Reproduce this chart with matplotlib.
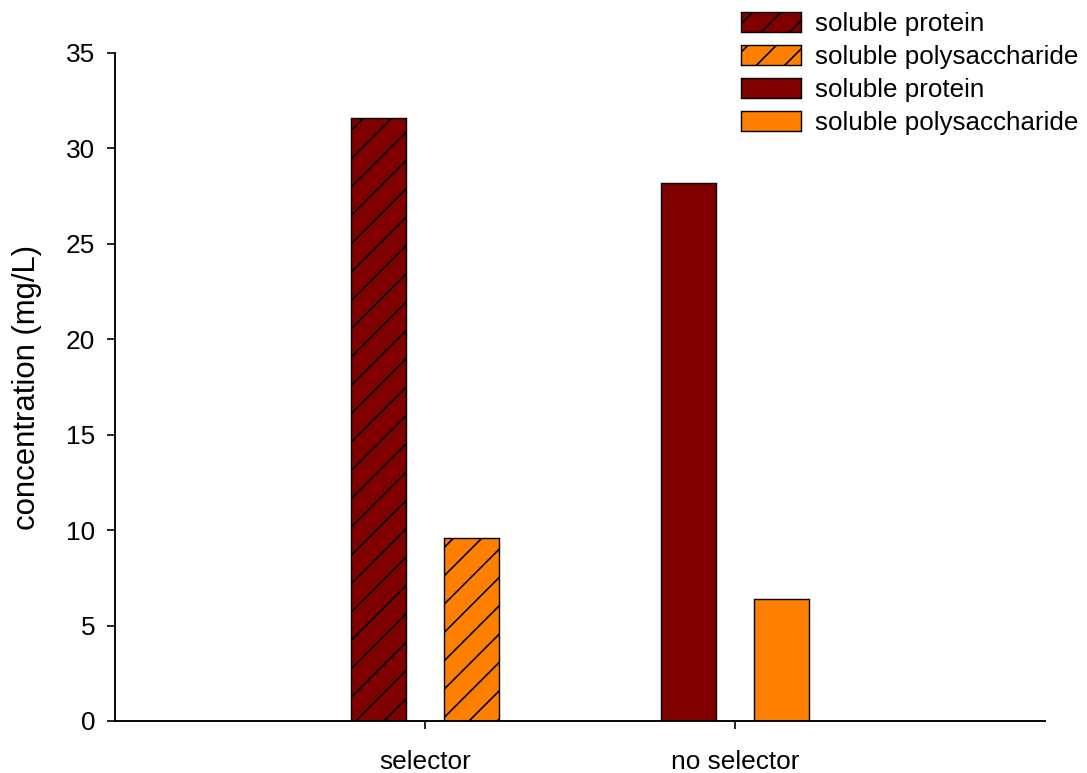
import matplotlib
matplotlib.use("Agg")
import matplotlib.pyplot as plt
from matplotlib.patches import Patch

categories = ["selector", "no selector"]
protein = [31.6, 28.2]
polysaccharide = [9.6, 6.4]
hatched = [True, False]

DPI = 170
plt.rcParams["font.family"] = ["Liberation Sans", "DejaVu Sans"]
plt.rcParams["hatch.linewidth"] = 0.7
plt.rcParams["hatch.color"] = "black"

fig = plt.figure(figsize=(1087 / DPI, 773 / DPI), dpi=DPI)
ax = fig.add_axes([115 / 1087, 52 / 773, 930 / 1087, 668 / 773])

c_prot = "#800000"
c_poly = "#FF8000"
width = 0.18
xpos = [1, 2]
for i, x in enumerate(xpos):
    h = "//" if hatched[i] else None
    ax.bar(x - 0.15, protein[i], width, color=c_prot, edgecolor="black",
           linewidth=0.6, hatch=h)
    ax.bar(x + 0.15, polysaccharide[i], width, color=c_poly, edgecolor="black",
           linewidth=0.6, hatch=h)

ax.set_xlim(0, 3)
ax.set_ylim(0, 35)
ax.set_xticks(xpos)
ax.set_xticklabels(categories, fontsize=11.1)
ax.set_yticks(range(0, 36, 5))
ax.tick_params(axis="y", labelsize=11.1, length=3.4, width=0.7, pad=5)
ax.tick_params(axis="x", length=3.4, width=0.7, pad=9)
for s in ["top", "right"]:
    ax.spines[s].set_visible(False)
for s in ["left", "bottom"]:
    ax.spines[s].set_linewidth(0.8)
ax.set_ylabel("concentration (mg/L)", fontsize=13.2, labelpad=10)

handles = [
    Patch(facecolor=c_prot, edgecolor="black", hatch="//", linewidth=0.6, label="soluble protein"),
    Patch(facecolor=c_poly, edgecolor="black", hatch="//", linewidth=0.6, label="soluble polysaccharide"),
    Patch(facecolor=c_prot, edgecolor="black", linewidth=0.6, label="soluble protein"),
    Patch(facecolor=c_poly, edgecolor="black", linewidth=0.6, label="soluble polysaccharide"),
]
fig.legend(handles=handles, loc="upper left", bbox_to_anchor=(736 / 1087, 1 - 7 / 773),
           frameon=False, fontsize=11, handlelength=2.3, handleheight=0.8,
           labelspacing=0.34, handletextpad=0.55, borderpad=0.2, borderaxespad=0)

fig.savefig("out.png", dpi=DPI)
